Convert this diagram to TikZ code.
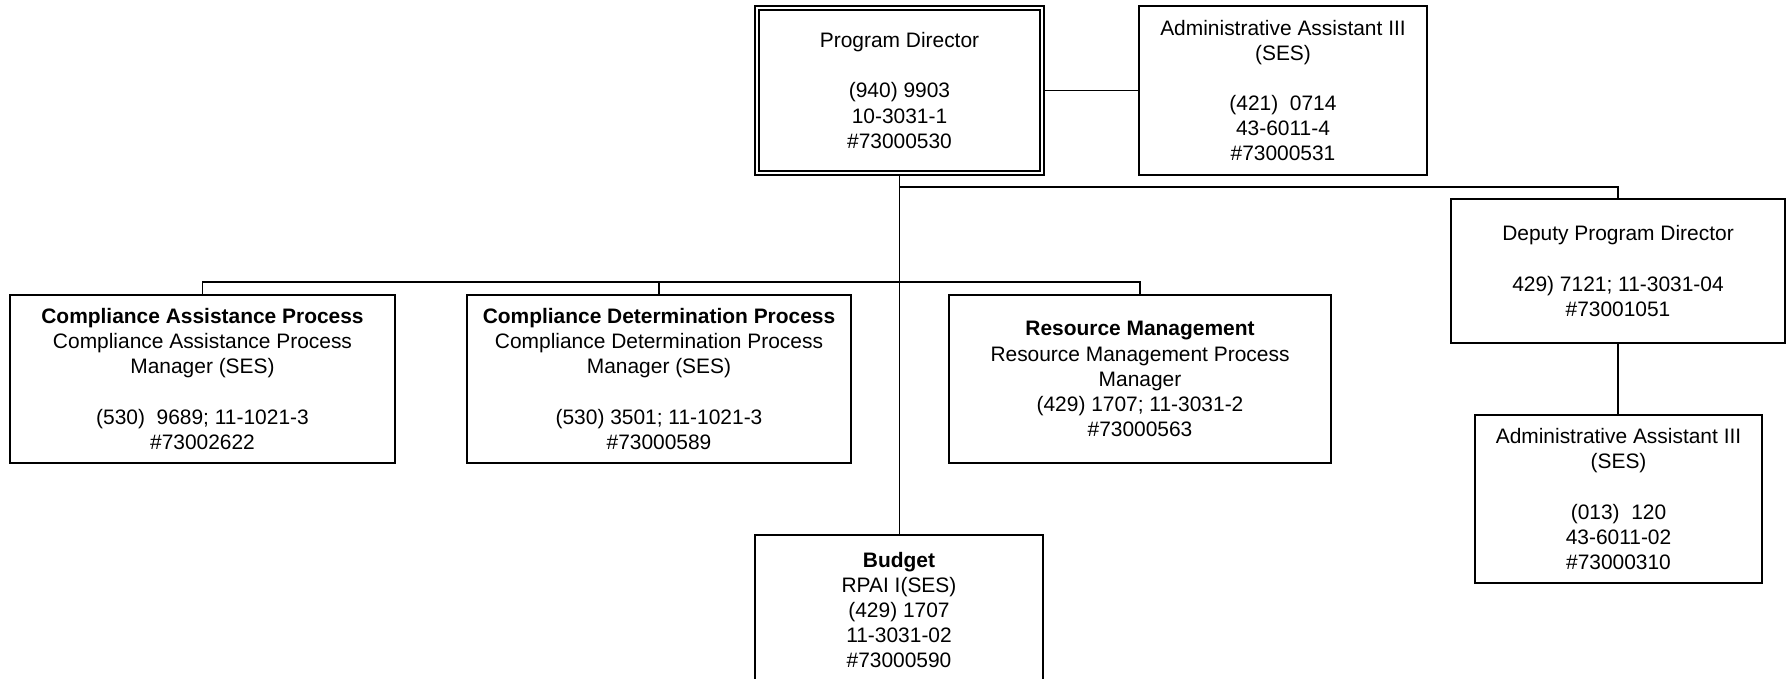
\documentclass[tikz,border=0pt]{standalone}
\usepackage{fontspec}
\setmainfont{Liberation Sans}
\begin{document}
\begin{tikzpicture}[x=0.75pt,y=-0.75pt,
    box/.style={draw,line width=1.4pt,inner sep=0pt,align=center,
        font=\fontsize{15.7}{18.8}\selectfont},
    wire/.style={line width=1.4pt}]
    \useasboundingbox (0,0) rectangle (1787,678);
    \node[box,double,line width=1.2pt,double distance=2.2pt,outer sep=2.3pt,
        minimum width=213.75pt,minimum height=123.75pt] (pd) at (899.5,90.5)
        {Program Director\\[\baselineskip](940) 9903\\10-3031-1\\\#73000530};
    \node[box,minimum width=216pt,minimum height=126.75pt] (aa1) at (1283,90.5)
        {Administrative Assistant III\\(SES)\\[\baselineskip](421)\ \ 0714\\43-6011-4\\\#73000531};
    \node[box,minimum width=250.5pt,minimum height=108pt] (dep) at (1618,271)
        {Deputy Program Director\\[\baselineskip]429) 7121; 11-3031-04\\\#73001051};
    \node[box,minimum width=215.25pt,minimum height=126pt] (aa2) at (1618.5,499)
        {Administrative Assistant III\\(SES)\\[\baselineskip](013)\ \ 120\\43-6011-02\\\#73000310};
    \node[box,minimum width=288.75pt,minimum height=126pt] (cap) at (202.5,379)
        {\textbf{Compliance Assistance Process}\\Compliance Assistance Process\\Manager (SES)\\[\baselineskip](530)\ \ 9689; 11-1021-3\\\#73002622};
    \node[box,minimum width=288pt,minimum height=126pt] (cdp) at (659,379)
        {\textbf{Compliance Determination Process}\\Compliance Determination Process\\Manager (SES)\\[\baselineskip](530) 3501; 11-1021-3\\\#73000589};
    \node[box,minimum width=286.5pt,minimum height=126pt] (rm) at (1140,379)
        {\textbf{Resource Management}\\Resource Management Process\\Manager\\(429) 1707; 11-3031-2\\\#73000563};
    \node[box,minimum width=216pt,minimum height=112.5pt] (bud) at (899,610)
        {\textbf{Budget}\\RPAI I(SES)\\(429) 1707\\11-3031-02\\\#73000590};
    \draw[wire] (pd) -- (aa1);
    \draw[wire] (pd.south) -- (pd.south |- bud.north);
    \draw[wire] (pd.south) -- ++(0,11) -| (dep.north);
    \draw[wire] (dep.south) -- (dep.south |- aa2.north);
    \draw[wire] (cap.north) -- ++(0,-12) -| (rm.north);
    \draw[wire] (cdp.north) -- ++(0,-12);
\end{tikzpicture}
\end{document}
